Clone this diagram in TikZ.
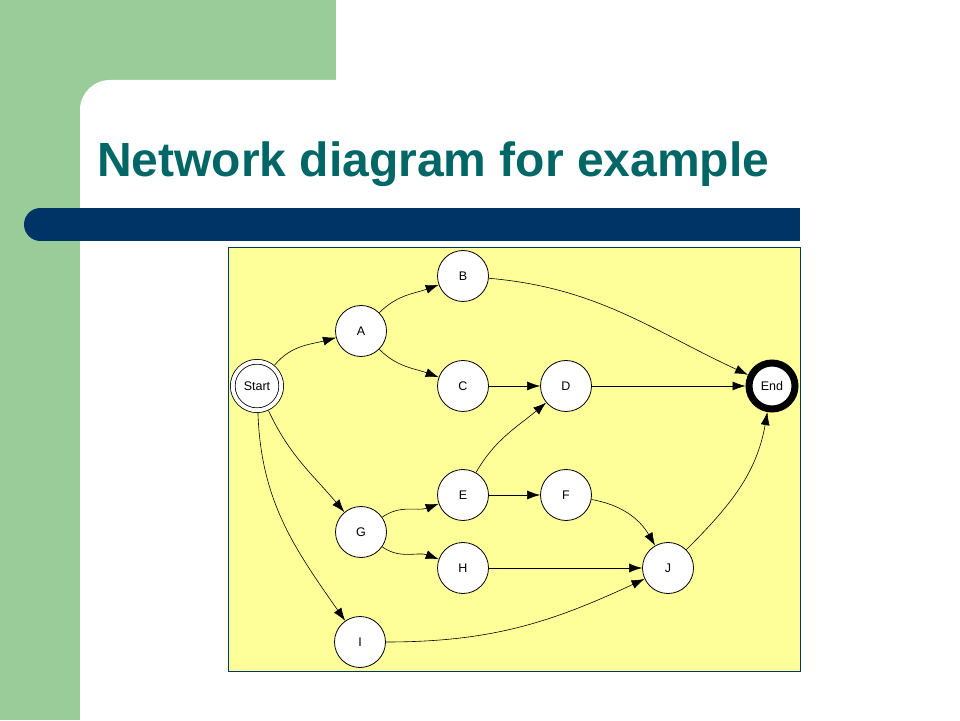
\documentclass[tikz,border=0pt]{standalone}
\usepackage{fontspec}
\setmainfont{Liberation Sans}
\usetikzlibrary{arrows.meta}
\definecolor{slidegreen}{RGB}{153,204,153}
\definecolor{slidenavy}{RGB}{0,51,102}
\definecolor{titleteal}{RGB}{0,102,102}
\definecolor{panelyellow}{RGB}{255,255,153}
\begin{document}
\begin{tikzpicture}[x=1pt,y=1pt,>={Latex[length=13pt,width=9pt]},
  event/.style={circle,draw,fill=white,line width=0.8pt,minimum size=51pt,inner sep=0pt,font=\fontsize{12.5}{14}\selectfont},
  link/.style={->,line width=0.6pt}]
\useasboundingbox (0,0) rectangle (960,720);
% slide background
\fill[white] (0,0) rectangle (960,720);
\fill[slidegreen] (0,0) rectangle (336,720);
\fill[white] (80,0) -- (80,610) arc[start angle=180,end angle=90,radius=30] -- (960,640) -- (960,0) -- cycle;
\fill[slidenavy] (40,479) rectangle (800,512);
\fill[slidenavy] (40.5,495.5) circle[radius=16.5];
\node[anchor=base west,inner sep=0pt,text=titleteal,font=\fontsize{48}{56}\selectfont\bfseries] (title) at (97,543) {Network diagram for example};
% panel
\draw[slidenavy,fill=panelyellow,line width=0.8pt] (228,49) rectangle (800,473);
% events
\node[event,double,double distance=3.9pt,minimum size=48.5pt,outer sep=3pt] (start) at (257,334) {Start};
\node[event] (A) at (361,389) {A};
\node[event] (B) at (463,444) {B};
\node[event] (C) at (463,334) {C};
\node[event] (D) at (566,334) {D};
\node[event] (E) at (463,225) {E};
\node[event] (F) at (566,225) {F};
\node[event] (G) at (361,188) {G};
\node[event] (H) at (463,152) {H};
\node[event] (I) at (360,78) {I};
\node[event] (J) at (668,152) {J};
\node[event,line width=7pt,minimum size=46pt,outer sep=3.5pt] (finish) at (772,334) {End};
% activities
\draw[link] (start) to[out=50,in=195] (A);
\draw[link] (A) to[out=45,in=200] (B);
\draw[link] (A) to[out=-45,in=160] (C);
\draw[link] (B) to[out=-5,in=155] (finish);
\draw[link] (C) -- (D);
\draw[link] (D) -- (finish);
\draw[link] (E) to[out=60,in=220] (D);
\draw[link] (E) -- (F);
\draw[link] (F) to[out=-10,in=120] (J);
\draw[link] (G) to[out=35,in=200] (E);
\draw[link] (G) to[out=-35,in=160] (H);
\draw[link] (H) -- (J);
\draw[link] (I) to[out=0,in=205] (J);
\draw[link] (J) to[out=45,in=-100] (finish);
\draw[link] (start) to[out=-65,in=130] (G);
\draw[link] (start) to[out=-88,in=125] (I);
\end{tikzpicture}
\end{document}
